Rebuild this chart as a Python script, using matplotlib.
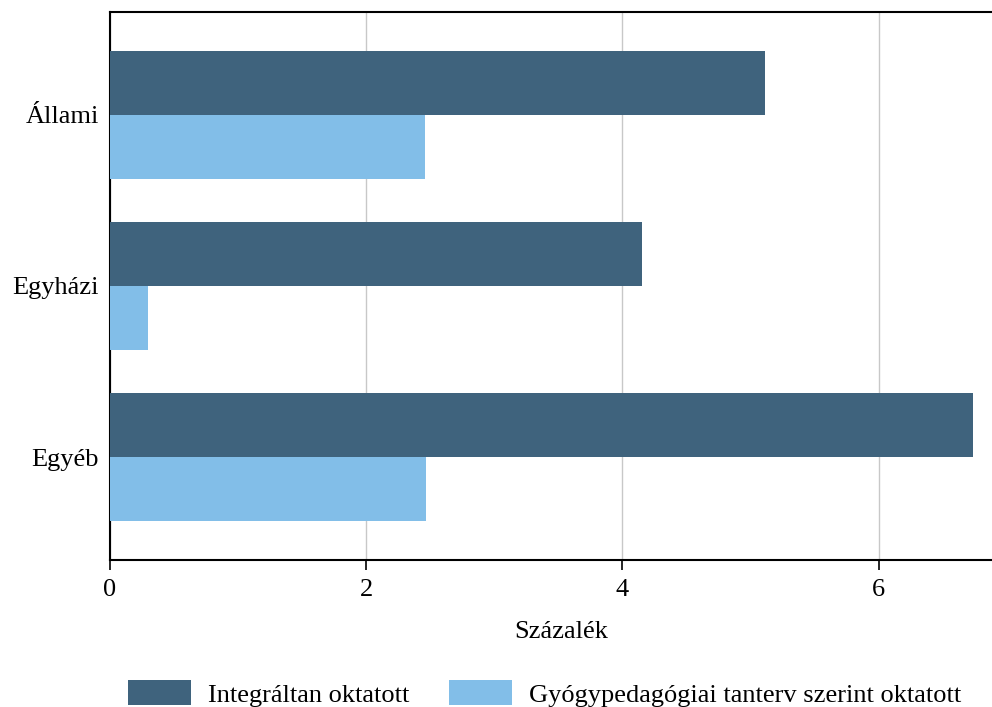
import matplotlib
matplotlib.use("Agg")
import matplotlib.pyplot as plt
import numpy as np

plt.rcParams['font.family'] = ['Liberation Serif', 'DejaVu Serif']

categories = ['Állami', 'Egyházi', 'Egyéb']
integralt = [5.11, 4.15, 6.74]
gyogyped = [2.46, 0.30, 2.47]
series_names = ['Integráltan oktatott', 'Gyógypedagógiai tanterv szerint oktatott']
colors = ['#3f637d', '#82bee8']

fig = plt.figure(figsize=(9.92, 7.07), dpi=100)
ax = fig.add_axes([0.1109, 0.208, 0.8891 + 0.02, 0.775])

y = np.arange(len(categories))
h = 0.375
ax.barh(y - h / 2, integralt, height=h, color=colors[0], label=series_names[0], zorder=3)
ax.barh(y + h / 2, gyogyped, height=h, color=colors[1], label=series_names[1], zorder=3)

ax.set_ylim(2.6, -0.6)
ax.set_xlim(0, 7.04)
ax.set_yticks(y)
ax.set_yticklabels(categories, fontsize=19)
ax.tick_params(axis='y', length=0, pad=8)
ax.set_xticks([0, 2, 4, 6])
ax.tick_params(axis='x', labelsize=19, length=7, width=1.2, pad=7)
ax.set_xlabel('Százalék', fontsize=19, labelpad=14)

ax.grid(axis='x', color='#c8c8c8', linewidth=1, zorder=0)
for s in ['left', 'bottom', 'top']:
    ax.spines[s].set_linewidth(1.5)
ax.spines['right'].set_visible(False)

fig.legend(loc='lower center', bbox_to_anchor=(0.549, -0.033), ncol=2, frameon=False,
           fontsize=19, handlelength=2.4, handleheight=1.1, columnspacing=1.5, handletextpad=0.65)

fig.savefig('out.png', dpi=100)
